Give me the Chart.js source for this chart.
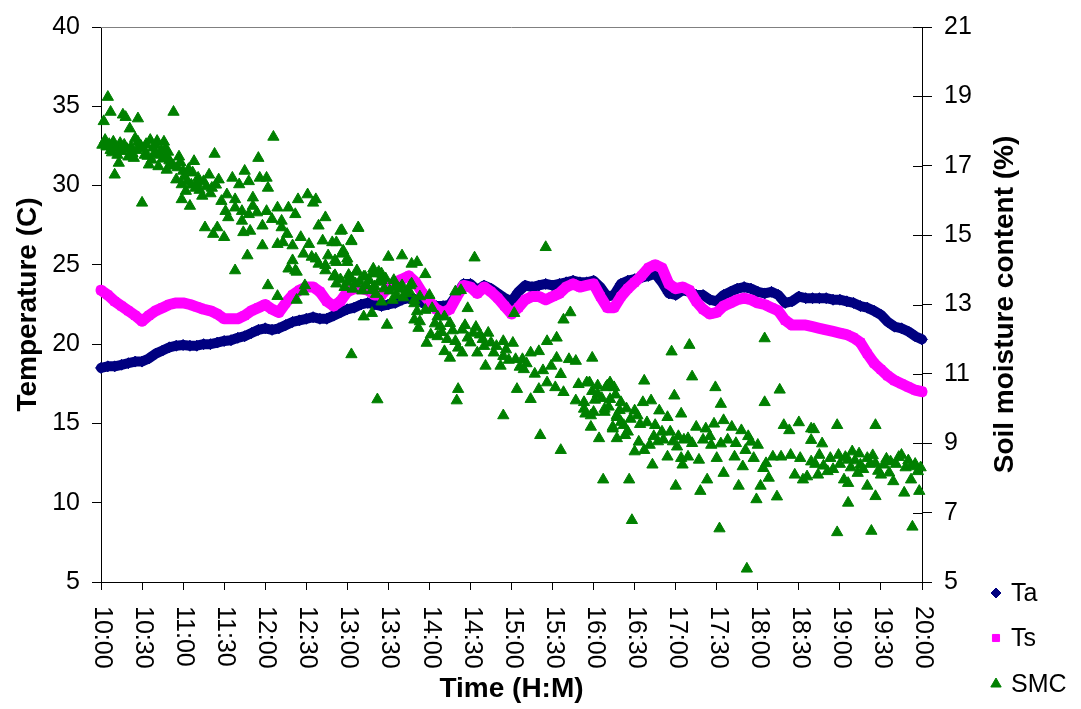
<!DOCTYPE html>
<html>
<head>
<meta charset="utf-8">
<title>Temperature and soil moisture, 10:00–20:00</title>
<script src="https://cdn.jsdelivr.net/npm/chart.js@4.4.1/dist/chart.umd.min.js"></script>
<style>
  html, body { margin: 0; padding: 0; background: #ffffff; }
  #wrap { width: 1081px; height: 709px; }
</style>
</head>
<body>
<div id="wrap"><canvas id="chart" width="1081" height="709"></canvas></div>
<script>
// ---- data -------------------------------------------------------------
// Time axis labels (every 30 minutes from 10:00 to 20:00)
const timeLabels = ['10:00','10:30','11:00','11:30','12:00','12:30','13:00','13:30','14:00','14:30',
  '15:00','15:30','16:00','16:30','17:00','17:30','18:00','18:30','19:00','19:30','20:00'];
const timeSpanMin = 600;     // minutes covered by the time axis
const timeTickMin = 30;      // minutes between time labels
const sampleStepMin = 5;     // minutes between Ta / Ts readings

// Left axis (temperature, C) and right axis (soil moisture, %) tick values
const tempTicks = [5, 10, 15, 20, 25, 30, 35, 40];
const smcTicks = [5, 7, 9, 11, 13, 15, 17, 19, 21];

// Air temperature Ta (C), one reading every 5 minutes from 10:00
const airTemp = [
  18.5, 18.6, 18.6, 18.7, 18.8, 18.9, 18.9, 19.1, 19.4, 19.6, 19.8, 19.9,
  19.95, 19.9, 19.9, 20.0, 20.0, 20.1, 20.2, 20.25, 20.4, 20.5, 20.7, 20.9,
  21.0, 20.9, 21.0, 21.2, 21.4, 21.5, 21.6, 21.7, 21.6, 21.6, 21.8, 22.0,
  22.2, 22.3, 22.5, 22.6, 22.5, 22.4, 22.5, 22.6, 22.8, 22.9, 22.8, 22.6,
  22.5, 22.4, 22.4, 22.5, 23.1, 23.8, 23.8, 23.4, 23.7, 23.5, 23.2, 22.9,
  22.7, 23.3, 23.7, 23.6, 23.7, 23.8, 23.7, 23.8, 23.9, 24.0, 23.9, 23.9,
  24.0, 23.6, 23.0, 23.1, 23.8, 24.0, 24.1, 24.2, 24.3, 24.45, 23.9, 23.2,
  23.1, 23.4, 23.3, 23.1, 23.1, 22.8, 22.7, 23.1, 23.3, 23.5, 23.6, 23.5,
  23.3, 23.2, 23.3, 23.1, 22.6, 22.7, 23.0, 22.9, 22.9, 22.9, 22.9, 22.8,
  22.8, 22.7, 22.6, 22.4, 22.3, 22.1, 21.85, 21.4, 21.1, 21.0, 20.8, 20.5,
  20.3
];

// Soil temperature Ts (C), one reading every 5 minutes from 10:00
const soilTemp = [
  23.4, 23.1, 22.7, 22.4, 22.1, 21.8, 21.45, 21.8, 22.1, 22.3, 22.5, 22.6,
  22.6, 22.5, 22.35, 22.2, 22.1, 21.9, 21.6, 21.6, 21.6, 21.8, 22.1, 22.3,
  22.5, 22.2, 22.0, 22.6, 23.1, 23.4, 23.6, 23.6, 23.3, 22.7, 22.4, 22.7,
  23.3, 23.5, 23.5, 23.4, 23.1, 23.1, 23.6, 23.9, 24.1, 24.3, 23.9, 23.2,
  22.7, 22.2, 22.0, 22.2, 23.0, 23.7, 23.6, 23.2, 23.6, 23.3, 22.9, 22.4,
  21.9, 22.3, 22.8, 23.0, 23.0, 22.8, 23.0, 23.2, 23.6, 23.8, 23.6, 23.7,
  23.8, 23.0, 22.3, 22.3, 23.0, 23.5, 23.9, 24.3, 24.8, 25.0, 24.8, 23.8,
  23.5, 23.6, 23.4, 22.7, 22.2, 21.9, 22.0, 22.4, 22.6, 22.8, 22.9, 22.8,
  22.6, 22.5, 22.3, 22.1, 21.5, 21.2, 21.2, 21.2, 21.1, 21.0, 20.9, 20.8,
  20.7, 20.6, 20.4, 20.1, 19.4, 18.8, 18.4, 18.0, 17.7, 17.5, 17.3, 17.1,
  17.0
];

// Soil moisture content SMC (%): [minutes after 10:00, value]
const smcReadings = [
  [5,18.98],[7,18.55],[2,18.28],[16,18.47],[18,18.40],[27,18.36],[53,18.55],[21,18.07],
  [3,17.74],[9,17.69],[14,17.65],[25,17.79],[27,17.69],[36,17.74],[41,17.71],[46,17.69],
  [1,17.60],[7,17.45],[12,17.31],[20,17.26],[24,17.22],[32,17.31],[37,17.17],[43,17.31],
  [48,17.26],[51,17.08],[57,17.26],[13,17.08],[35,17.03],[42,16.98],[48,16.88],[10,16.74],
  [4,17.55],[6,17.62],[8,17.38],[11,17.52],[15,17.42],[17,17.60],[19,17.48],[22,17.55],
  [23,17.36],[26,17.45],[29,17.58],[31,17.50],[33,17.62],[34,17.28],[38,17.52],[39,17.36],
  [40,17.60],[44,17.45],[45,17.20],[47,17.50],[49,17.40],[50,17.15],
  [30,15.93],[68,17.13],[83,17.34],[115,17.22],[126,17.83],[60,16.85],[55,16.60],[59,16.46],
  [62,16.27],[59,16.03],[65,15.84],[71,16.65],[79,16.74],[86,16.60],[69,16.36],[74,16.13],
  [53,17.00],[56,16.95],[58,17.10],[61,16.70],[63,16.55],[64,16.90],[66,16.45],[67,16.80],
  [70,16.50],[72,16.30],[75,16.55],[77,16.40],[80,16.20],[84,16.45],
  [81,16.36],[76,15.22],[85,15.22],[82,15.03],[90,14.94],[96,16.65],[105,16.85],[108,16.55],
  [101,16.46],[116,16.65],[121,16.65],[122,16.36],[88,15.98],[92,16.17],[98,16.03],[111,16.08],
  [91,15.69],[98,15.79],[103,15.69],[108,15.60],[114,15.65],[93,15.51],[103,15.41],[111,15.84],
  [118,15.27],[104,15.08],[109,15.12],[118,14.70],[107,14.41],[98,13.98],[121,15.69],[125,15.46],
  [129,15.79],[132,15.41],[137,15.79],[142,15.60],[144,16.03],[151,16.17],[155,15.93],[157,16.03],
  [129,14.74],[133,14.79],[140,14.70],[132,15.22],[136,15.03],[146,14.94],[152,14.74],[159,15.27],
  [164,15.51],[175,15.12],[162,14.84],[169,14.79],[148,14.46],[154,14.37],[159,14.17],[166,14.41],
  [171,14.27],[176,14.46],[137,14.03],[142,13.98],[164,13.98],[140,14.27],
  [122,13.55],[129,13.24],[143,13.13],[149,13.55],[148,13.37],[143,13.94],[157,14.32],[164,14.13],
  [171,13.84],[180,14.32],[183,14.84],[188,15.22],[180,13.65],[183,13.74],[187,13.98],[193,13.80],
  [198,13.89],[203,13.94],[205,13.70],[210,14.37],[220,14.41],[227,14.17],[198,13.41],[194,13.55],
  [183,11.56],[192,12.65],[198,12.75],[209,12.41],[202,10.26],[215,13.51],[222,13.32],[227,13.60],
  [229,13.03],[229,12.56],
  [176,15.14],[188,15.20],[183,14.82],[172,14.79],[177,14.55],[172,14.22],[180,14.22],[170,13.80],
  [231,14.22],[237,13.87],[273,14.35],[325,14.65],
  [187,13.94],[192,13.80],[199,14.03],[205,13.89],[186,13.60],[194,13.55],[203,13.65],[207,13.46],
  [215,13.51],[220,13.55],[226,13.55],[216,13.27],[224,13.32],[229,13.13],[233,13.23],[240,13.27],
  [172,13.60],[175,13.72],[178,13.50],[181,13.85],[184,13.45],[189,13.66],[191,13.40],[196,13.70],
  [200,13.52],[201,13.30],[208,13.75],[211,13.40],[214,13.70],[218,13.45],[221,13.20],[225,13.40],
  [205,13.08],[213,13.13],[259,13.37],[263,13.41],[268,12.89],[302,12.75],[338,12.56],[343,12.77],
  [231,12.80],[237,12.84],[242,12.89],[246,12.65],[233,12.51],[232,12.32],[251,12.65],[248,12.37],
  [255,12.46],[241,12.13],[246,12.08],[238,11.89],[251,11.65],[255,11.46],[264,12.27],[272,12.18],
  [277,12.13],[283,12.18],[268,12.04],[259,11.94],[264,11.61],[275,11.61],[280,11.80],[287,11.61],
  [244,12.45],[249,12.20],[253,12.00],[257,12.25],[261,11.75],[266,12.40],[270,11.90],[274,12.35],
  [279,12.00],[285,11.90],[289,11.80],[296,11.70],[298,11.40],[306,11.20],[311,11.30],[317,11.00],
  [323,11.10],
  [281,11.23],[294,11.94],[301,11.89],[294,11.51],[292,11.23],[303,11.42],[308,11.42],[309,11.13],
  [314,11.61],[320,11.65],[326,11.94],[333,12.04],[333,11.46],[342,11.42],[347,11.37],[359,11.46],
  [329,11.23],[336,10.99],[304,10.56],[314,10.27],[320,10.56],[326,10.75],[332,10.61],[338,10.47],
  [349,10.70],[357,10.75],[363,10.66],[369,10.61],[372,10.75],[347,10.23],[353,9.99],[358,9.80],
  [368,9.99],[377,9.80],[380,9.61],[358,9.47],[374,9.47],[383,9.23],[294,9.80],[321,9.23],
  [261,10.56],[260,10.23],[336,8.80],[364,9.14],
  [359,10.50],[361,10.25],[366,10.30],[371,10.05],[376,10.40],[379,9.95],[384,10.00],[387,9.70],
  [394,9.55],[399,9.60],[404,9.20],[407,9.05],[411,9.10],[418,9.05],[422,9.20],[426,9.10],
  [432,9.00],[440,9.10],[445,9.20],[458,9.10],[464,9.00],[471,8.80],[473,9.20],
  [417,11.64],[430,11.83],[485,12.02],[432,10.92],[397,10.80],[449,10.61],[496,10.54],[419,10.37],
  [453,10.13],[485,10.18],[355,10.75],[363,10.42],[370,10.66],[375,10.61],[372,10.27],[380,10.18],
  [353,10.18],[360,9.90],[368,9.90],[354,9.85],[377,9.75],[374,9.42],[377,9.14],[367,7.95],
  [386,7.95],[388,6.78],[452,6.54],[472,5.38],[538,6.43],[563,6.47],[593,6.59],
  [390,9.94],[396,10.18],[402,10.23],[408,9.94],[414,9.75],[424,9.85],[392,9.80],[382,9.52],
  [385,9.33],[393,9.04],[401,8.95],[390,8.76],[397,8.80],[403,8.38],[405,9.52],[410,9.33],
  [416,9.33],[421,8.90],[429,9.14],[435,9.47],[442,9.42],[448,9.56],[455,9.66],[461,9.47],
  [468,9.37],[475,9.04],[480,8.95],[446,8.95],[453,8.99],[424,8.57],[429,8.61],[437,8.52],
  [450,8.57],[463,8.61],[477,8.57],[425,8.38],[414,8.61],[420,7.77],[438,7.62],[443,7.95],
  [455,8.14],[466,7.77],[469,8.33],[479,7.38],[482,7.77],[488,8.00],[494,7.46],[484,8.28],
  [486,8.42],[491,8.61],[497,8.61],[504,8.66],[511,8.57],[507,8.09],[513,7.95],[499,9.52],
  [503,9.37],[510,9.60],[519,9.42],[521,9.40],[519,9.09],[527,8.99],[538,9.52],[566,9.52],
  [519,8.47],[525,8.66],[533,8.57],[539,8.66],[546,8.52],[549,8.76],[555,8.38],[560,8.57],
  [566,8.42],[572,8.38],[577,8.47],[585,8.66],[592,8.33],[597,8.19],[516,8.04],[524,8.09],
  [531,8.19],[543,7.95],[546,7.85],[553,8.14],[560,7.77],[566,7.47],[570,8.09],[579,7.90],
  [587,7.57],[592,7.95],[598,7.62],[546,7.28],
  [540,8.40],[544,8.60],[548,8.30],[551,8.50],[554,8.70],[557,8.25],[562,8.40],[564,8.65],
  [568,8.20],[574,8.55],[576,8.15],[581,8.40],[583,8.60],[588,8.30],[590,8.50],[595,8.40],
  [599,8.30],[522,8.40],[528,8.35],[535,8.25]
];

// ---- appearance ---------------------------------------------------------
const FONT = "'Liberation Sans', Arial, Helvetica, sans-serif";
const TICK_FONT = { family: FONT, size: 25 };
const TITLE_FONT = { family: FONT, size: 28, weight: 'bold' };
const NAVY = '#000080', MAGENTA = '#FF00FF', GREEN = '#008000';

const toSeries = values => values.map((v, i) => ({ x: i * sampleStepMin, y: v }));

// Extra decorations: rotated time labels, right-hand title, legend,
// top frame line and the inner half of the right-axis tick marks.
const chartDecor = {
  id: 'chartDecor',
  beforeDatasetsDraw(chart) {
    const { ctx, chartArea: a } = chart;
    const y2 = chart.scales.y2;
    ctx.save();
    ctx.lineWidth = 1;
    ctx.strokeStyle = '#808080';
    const top = Math.round(a.top) + 0.5;
    ctx.beginPath(); ctx.moveTo(a.left, top); ctx.lineTo(a.right, top); ctx.stroke();
    ctx.strokeStyle = '#000000';
    y2.ticks.forEach(t => {
      const py = Math.round(y2.getPixelForValue(t.value)) + 0.5;
      ctx.beginPath(); ctx.moveTo(Math.round(y2.left) - 9, py); ctx.lineTo(Math.round(y2.left), py); ctx.stroke();
    });
    ctx.restore();
  },
  afterDraw(chart) {
    const { ctx, chartArea: a } = chart;
    const xs = chart.scales.x;
    ctx.save();
    ctx.fillStyle = '#000000';

    // time labels, turned to read downwards
    ctx.font = `${TICK_FONT.size}px ${FONT}`;
    ctx.textAlign = 'left';
    ctx.textBaseline = 'middle';
    xs.ticks.forEach((t, i) => {
      const px = xs.getPixelForValue(t.value);
      ctx.save();
      ctx.translate(px + 1, a.bottom + 24);
      ctx.rotate(Math.PI / 2);
      ctx.fillText(timeLabels[i], 0, 0);
      ctx.restore();
    });

    // secondary axis title, reading upwards
    ctx.font = `bold ${TITLE_FONT.size}px ${FONT}`;
    ctx.textAlign = 'center';
    ctx.save();
    ctx.translate(1005, (a.top + a.bottom) / 2);
    ctx.rotate(-Math.PI / 2);
    ctx.fillText('Soil moisture content (%)', 0, 0);
    ctx.restore();

    // legend
    const items = [
      { label: 'Ta', style: 'rectRot', color: NAVY, r: 5, y: 593 },
      { label: 'Ts', style: 'rect', color: MAGENTA, r: 5, y: 638 },
      { label: 'SMC', style: 'triangle', color: GREEN, r: 6, y: 684 }
    ];
    ctx.font = `${TICK_FONT.size}px ${FONT}`;
    ctx.textAlign = 'left';
    items.forEach(it => {
      ctx.fillStyle = it.color;
      ctx.strokeStyle = it.color;
      ctx.lineWidth = 1;
      Chart.helpers.drawPoint(ctx, { pointStyle: it.style, radius: it.r, borderWidth: 1, rotation: 0 }, 996, it.y);
      ctx.fillStyle = '#000000';
      ctx.fillText(it.label, 1011, it.y + 1);
    });
    ctx.restore();
  }
};

new Chart(document.getElementById('chart'), {
  type: 'scatter',
  data: {
    datasets: [
      {
        label: 'Ta',
        data: toSeries(airTemp),
        yAxisID: 'y',
        showLine: true,
        borderColor: NAVY,
        backgroundColor: NAVY,
        borderWidth: 10,
        borderJoinStyle: 'round',
        borderCapStyle: 'round',
        pointStyle: 'rectRot',
        pointRadius: 5.5,
        pointBorderWidth: 1,
        pointBackgroundColor: NAVY,
        pointBorderColor: NAVY,
        clip: false,
        order: 3
      },
      {
        label: 'Ts',
        data: toSeries(soilTemp),
        yAxisID: 'y',
        showLine: true,
        borderColor: MAGENTA,
        backgroundColor: MAGENTA,
        borderWidth: 11,
        borderJoinStyle: 'round',
        borderCapStyle: 'round',
        pointStyle: 'rect',
        pointRadius: 5.5,
        pointBorderWidth: 1,
        pointBackgroundColor: MAGENTA,
        pointBorderColor: MAGENTA,
        clip: false,
        order: 2
      },
      {
        label: 'SMC',
        data: smcReadings.map(([m, v]) => ({ x: m, y: v })),
        yAxisID: 'y2',
        showLine: false,
        pointStyle: 'triangle',
        pointRadius: 6.5,
        pointBorderWidth: 1,
        pointBackgroundColor: GREEN,
        pointBorderColor: GREEN,
        borderColor: GREEN,
        backgroundColor: GREEN,
        clip: false,
        order: 1
      }
    ]
  },
  options: {
    responsive: false,
    animation: false,
    events: [],
    layout: { padding: { left: 11, top: 21, right: 58, bottom: 3 } },
    plugins: { legend: { display: false }, tooltip: { enabled: false } },
    scales: {
      x: {
        type: 'linear',
        position: 'bottom',
        min: 0,
        max: timeSpanMin,
        ticks: { stepSize: timeTickMin, display: false },
        grid: { drawOnChartArea: false, drawTicks: true, tickLength: 8, color: '#000000' },
        border: { display: true, color: '#000000', width: 1 },
        title: { display: true, text: 'Time (H:M)', color: '#000000', font: TITLE_FONT, padding: { top: 0, bottom: 0 } },
        afterFit: s => { s.height = 124; }
      },
      y: {
        position: 'left',
        min: tempTicks[0],
        max: tempTicks[tempTicks.length - 1],
        ticks: { stepSize: tempTicks[1] - tempTicks[0], color: '#000000', font: TICK_FONT, padding: 12 },
        grid: { drawOnChartArea: false, drawTicks: true, tickLength: 9, color: '#000000' },
        border: { display: true, color: '#000000', width: 1 },
        title: { display: true, text: 'Temperature (C)', color: '#000000', font: TITLE_FONT, padding: { top: 0, bottom: 0 } },
        afterFit: s => { s.width = 90; }
      },
      y2: {
        position: 'right',
        min: smcTicks[0],
        max: smcTicks[smcTicks.length - 1],
        ticks: { stepSize: smcTicks[1] - smcTicks[0], color: '#000000', font: TICK_FONT, padding: 12 },
        grid: { drawOnChartArea: false, drawTicks: true, tickLength: 10, color: '#000000' },
        border: { display: true, color: '#000000', width: 1 },
        afterFit: s => { s.width = 101; }
      }
    }
  },
  plugins: [chartDecor]
});
</script>
</body>
</html>
